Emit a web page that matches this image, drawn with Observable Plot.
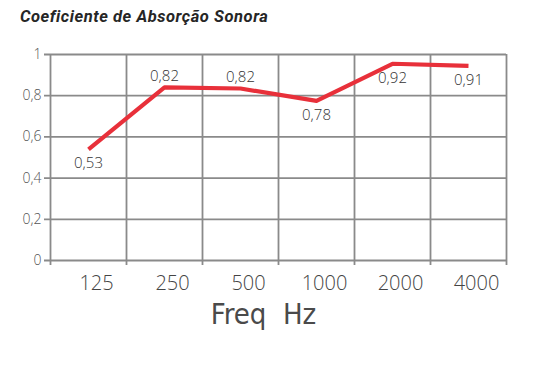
<!DOCTYPE html>
<html>
<head>
<meta charset="utf-8">
<script src="https://cdn.jsdelivr.net/npm/d3@7"></script>
<script src="https://cdn.jsdelivr.net/npm/@observablehq/plot@0.6"></script>
<style>
  body { margin: 0; background: #fff; }
  #title { font-family: Roboto, "Open Sans", sans-serif; font-weight: 700; font-style: italic;
           font-size: 16.5px; letter-spacing: 0.55px; line-height: 18px; color: #262626;
           padding: 8px 0 0 20px; height: 24px; }
  #chart svg { display: block; }
</style>
</head>
<body>
<div id="title">Coeficiente de Absorção Sonora</div>
<div id="chart"></div>
<script>
const frequencies = ["125", "250", "500", "1000", "2000", "4000"];
const absorption = [0.54, 0.84, 0.835, 0.775, 0.955, 0.945];
const labelValues = [0.53, 0.82, 0.82, 0.78, 0.92, 0.91];
const yTicks = [0, 0.2, 0.4, 0.6, 0.8, 1];
const xLabel = "Freq  Hz";

const fmt = d => String(d).replace(".", ",");
const idx = frequencies.map((d, i) => i);
const bounds = d3.range(frequencies.length + 1).map(i => i - 0.5);
const above = new Set([1, 2]);
const gridColor = "#8a8a8a";
const tickFont = "'Open Sans', Lato, sans-serif";

const plot = Plot.plot({
  width: 546,
  height: 333,
  marginLeft: 50,
  marginRight: 40,
  marginTop: 22,
  marginBottom: 105,
  x: {domain: [-0.5, frequencies.length - 0.5], axis: null},
  y: {domain: [0, 1], axis: null},
  style: {background: "#fff"},
  marks: [
    Plot.ruleX(bounds, {x: d => d, stroke: gridColor, strokeWidth: 1.8, insetBottom: -5}),
    Plot.ruleY(yTicks, {y: d => d, stroke: gridColor, strokeWidth: 1.8, insetLeft: -6}),
    Plot.text(yTicks, {y: d => d, text: fmt, frameAnchor: "left", dx: -9, textAnchor: "end",
      fill: "#555", fontSize: 14, fontFamily: tickFont, fontWeight: 300}),
    Plot.text(frequencies, {x: (d, i) => i, text: d => d, frameAnchor: "bottom", dy: 29, dx: 8,
      fill: "#444", fontSize: 20, fontFamily: tickFont, fontWeight: 300}),
    Plot.text([xLabel], {x: (frequencies.length - 1) / 2, text: d => d, frameAnchor: "bottom", dy: 63, dx: -15,
      fill: "#4a4a4a", fontSize: 29, fontFamily: "'DejaVu Sans Condensed', 'Liberation Sans Narrow', sans-serif",
      fontWeight: 300}),
    Plot.line(absorption, {x: (d, i) => i, y: d => d, stroke: "#e8303a", strokeWidth: 4.2,
      strokeLinecap: "butt", strokeLinejoin: "round"}),
    Plot.text(idx, {x: i => i, y: i => absorption[i], text: i => fmt(labelValues[i]),
      filter: i => above.has(i), dy: -11,
      fill: "#333", fontSize: 15, fontFamily: tickFont, fontWeight: 300}),
    Plot.text(idx, {x: i => i, y: i => absorption[i], text: i => fmt(labelValues[i]),
      filter: i => !above.has(i), dy: 14,
      fill: "#333", fontSize: 15, fontFamily: tickFont, fontWeight: 300})
  ]
});
document.getElementById("chart").appendChild(plot);
</script>
</body>
</html>
